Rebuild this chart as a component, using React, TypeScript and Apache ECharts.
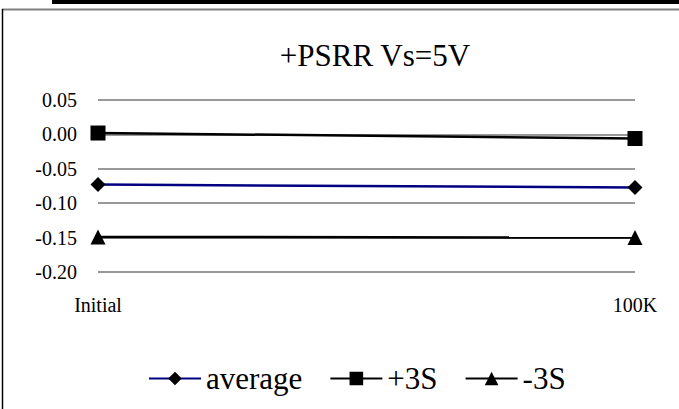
import React, { useEffect, useRef } from "react";
import * as echarts from "echarts";

const categories = ["Initial", "100K"];
const averageValues = [-0.073, -0.077];
const plus3SValues = [0.002, -0.006];
const minus3SValues = [-0.149, -0.15];
const yMin = -0.2;
const yMax = 0.05;
const yInterval = 0.05;
const titleText = "+PSRR Vs=5V";

const FONT = "Times New Roman, Liberation Serif, serif";

export default function App() {
  const ref = useRef<HTMLDivElement>(null);
  useEffect(() => {
    if (!ref.current) return;
    const chart = echarts.init(ref.current, null, { renderer: "svg" });
    chart.setOption({
      animation: false,
      backgroundColor: "#ffffff",
      textStyle: { fontFamily: FONT, color: "#000" },
      grid: { left: 98, right: 44, top: 100, bottom: 137, containLabel: false },
      graphic: [
        { type: "rect", shape: { x: 52, y: 0, width: 627, height: 4 }, style: { fill: "#000" }, z: 10 },
        { type: "line", shape: { x1: 2, y1: 9.5, x2: 679, y2: 9.5 }, style: { stroke: "#808080", lineWidth: 2 }, z: 10 },
        { type: "line", shape: { x1: 2.5, y1: 9, x2: 2.5, y2: 409 }, style: { stroke: "#000", lineWidth: 1.5 }, z: 10 },
        {
          type: "text",
          x: 375,
          y: 55,
          style: {
            text: titleText,
            fontFamily: FONT,
            fontSize: 31,
            fill: "#000",
            textAlign: "center",
            textVerticalAlign: "middle",
          },
          z: 10,
        },
      ],
      legend: {
        left: 143,
        top: 358,
        itemWidth: 52,
        itemHeight: 17,
        itemGap: 27,
        textStyle: { fontFamily: FONT, fontSize: 31, color: "#000" },
        data: ["average", "+3S", "-3S"],
      },
      xAxis: {
        type: "category",
        data: categories,
        boundaryGap: false,
        axisLine: { show: false },
        axisTick: { show: false },
        axisLabel: { fontFamily: FONT, fontSize: 20, color: "#000", margin: 23 },
        splitLine: { show: false },
      },
      yAxis: {
        type: "value",
        min: yMin,
        max: yMax,
        interval: yInterval,
        axisLine: { show: false },
        axisTick: { show: false },
        axisLabel: {
          fontFamily: FONT,
          fontSize: 20,
          color: "#000",
          margin: 21,
          formatter: (v: number) => v.toFixed(2),
        },
        splitLine: { show: true, lineStyle: { color: "#999", width: 2 } },
      },
      series: [
        {
          name: "average",
          type: "line",
          data: averageValues,
          symbol: "diamond",
          symbolSize: 15,
          itemStyle: { color: "#000" },
          lineStyle: { color: "#000080", width: 2.5 },
          z: 3,
        },
        {
          name: "+3S",
          type: "line",
          data: plus3SValues,
          symbol: "rect",
          symbolSize: 15,
          itemStyle: { color: "#000" },
          lineStyle: { color: "#000", width: 2.5 },
          z: 3,
        },
        {
          name: "-3S",
          type: "line",
          data: minus3SValues,
          symbol: "triangle",
          symbolSize: 15,
          itemStyle: { color: "#000" },
          lineStyle: { color: "#000", width: 2.5 },
          z: 3,
        },
      ],
    });
    return () => chart.dispose();
  }, []);
  return (
    <div
      ref={ref}
      style={{ position: "fixed", left: 0, top: 0, width: 679, height: 409 }}
    />
  );
}
